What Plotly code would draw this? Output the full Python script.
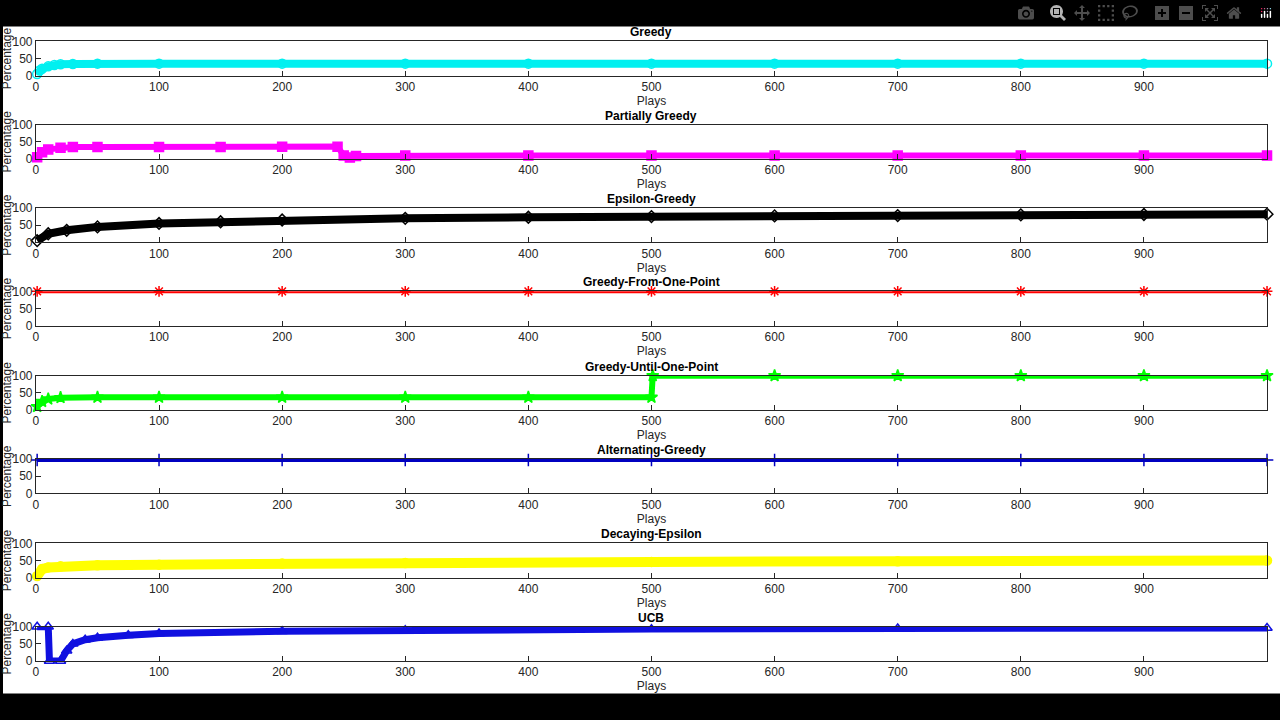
import plotly.graph_objects as go

titles = ["Greedy", "Partially Greedy", "Epsilon-Greedy", "Greedy-From-One-Point",
          "Greedy-Until-One-Point", "Alternating-Greedy", "Decaying-Epsilon", "UCB"]

greedy_x = [1, 3, 5, 10, 15, 20, 30, 50, 100, 200, 300, 400, 500, 600, 700, 800, 900, 1000]
greedy_y = [5, 15, 20, 27, 31, 33, 34, 35, 35, 35, 35, 35, 35, 35, 35, 35, 35, 35]

partial_x = [1, 5, 10, 20, 30, 50, 100, 150, 200, 245, 250, 255, 260, 300, 400, 500, 600, 700, 800, 900, 1000]
partial_y = [5, 20, 28, 33, 35, 35, 35, 35, 36, 36, 10, 4, 9, 10, 10, 10, 10, 10, 10, 10, 10]

eps_x = [1, 10, 25, 50, 100, 150, 200, 300, 400, 500, 600, 700, 800, 900, 1000]
eps_y = [5, 25, 35, 45, 55, 60, 65, 70, 73, 75, 77, 78, 80, 81, 82]

gfop_x = [1, 100, 200, 300, 400, 500, 600, 700, 800, 900, 1000]
gfop_y = [100, 100, 100, 100, 100, 100, 100, 100, 100, 100, 100]

guop_x = [1, 5, 10, 20, 50, 100, 200, 300, 400, 500, 501, 600, 700, 800, 900, 1000]
guop_y = [10, 25, 32, 36, 37, 37, 37, 37, 37, 37, 100, 100, 100, 100, 100, 100]

alt_x = [1, 100, 200, 300, 400, 500, 600, 700, 800, 900, 1000]
alt_y = [97, 97, 97, 97, 97, 97, 97, 97, 97, 97, 97]

decay_x = [1, 5, 10, 20, 50, 100, 200, 300, 500, 700, 1000]
decay_y = [5, 25, 30, 33, 36, 38, 41, 43, 46, 48, 50]

ucb_x = [1, 10, 11, 20, 25, 30, 40, 50, 75, 100, 200, 300, 500, 700, 1000]
ucb_y = [100, 100, 0, 0, 30, 50, 62, 68, 75, 80, 87, 90, 93, 95, 96]

xtick_vals = [0, 100, 200, 300, 400, 500, 600, 700, 800, 900, 1000]
ytick_vals = [0, 50, 100]

series = [(greedy_x, greedy_y), (partial_x, partial_y), (eps_x, eps_y), (gfop_x, gfop_y),
          (guop_x, guop_y), (alt_x, alt_y), (decay_x, decay_y), (ucb_x, ucb_y)]
colors = ["#00F0F0", "#FF00FF", "#000000", "#FF0000", "#00FF00", "#0000C0", "#FFFF00", "#1010E0"]
symbols = ["circle-open", "square", "diamond-open", "asterisk-open", "star", "cross-thin-open", "circle", "triangle-up-open"]
widths = [8, 6, 8, 4, 6, 4, 10, 7]

H = 720.0
tops = [35, 120, 205, 290, 376, 461, 547, 632]
box_h = 35
x0, x1 = 33 / 1280, 1267 / 1280

fig = go.Figure()
layout = dict(
    width=1280, height=720, margin=dict(l=0, r=0, t=0, b=0),
    paper_bgcolor="black", plot_bgcolor="white", showlegend=False,
    font=dict(family="Liberation Sans, Arial, sans-serif", size=12, color="#262626"),
    shapes=[dict(type="rect", xref="paper", yref="paper", x0=0, x1=1,
                 y0=1 - 700 / H, y1=1 - 20 / H, fillcolor="white", line_width=0, layer="below")],
    annotations=[],
)
for i, (xs, ys) in enumerate(series):
    n = "" if i == 0 else str(i + 1)
    top = 1 - tops[i] / H
    bot = 1 - (tops[i] + box_h) / H
    fig.add_trace(go.Scatter(x=xs, y=ys, mode="lines+markers", xaxis="x" + n, yaxis="y" + n,
                             line=dict(color=colors[i], width=widths[i]),
                             marker=dict(color=colors[i], symbol=symbols[i], size=9,
                                         line=dict(color=colors[i], width=1.5)),
                             cliponaxis=False))
    common = dict(showline=True, linecolor="#262626", linewidth=1, mirror=True, ticks="inside",
                  ticklen=5, tickcolor="#262626", showgrid=False, zeroline=False,
                  tickfont=dict(size=12, color="#262626"))
    layout["xaxis" + n] = dict(domain=[x0, x1], anchor="y" + n, range=[0, 1000],
                               tickvals=xtick_vals, title=dict(text="Plays", standoff=0,
                               font=dict(size=12, color="#262626")), **common)
    layout["yaxis" + n] = dict(domain=[bot, top], anchor="x" + n, range=[0, 100],
                               tickvals=ytick_vals, title=dict(text="Percentage", standoff=2,
                               font=dict(size=12, color="#262626")), **common)
    layout["annotations"].append(dict(text="<b>" + titles[i] + "</b>", xref="paper", yref="paper",
                                      x=650 / 1280, y=top, yanchor="bottom", showarrow=False,
                                      font=dict(size=12, color="black")))
fig.update_layout(**layout)
fig.write_html("out.html", post_script="document.body.style.margin='0';document.body.style.overflow='hidden';")
